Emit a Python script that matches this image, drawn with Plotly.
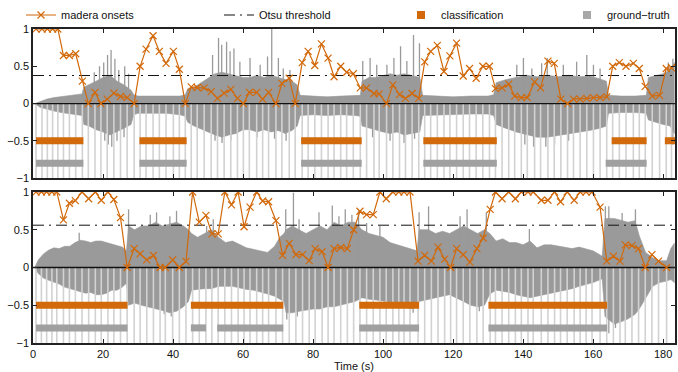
import plotly.graph_objects as go

X_MAX = 183.4
ORANGE = "#d2690a"
WAVE = "#9a9a9a"
ONSET_LINE = "#d2d2d2"
GT = "#a0a0a0"
FONT = "Liberation Sans, Arial, sans-serif"

y_tick_vals = [-1, -0.5, 0, 0.5, 1]
y_tick_text = ["\u22121", "\u22120.5", "0", "0.5", "1"]
x_tick_vals = [0, 20, 40, 60, 80, 100, 120, 140, 160, 180]

# ---------------- top panel ----------------
top_onset_t = [0.86, 2.57, 4.1, 5.6, 7.1, 8.7, 10.4, 12.2, 14.1, 15.8, 17.7, 19.4, 21.2, 23.1, 25.0, 26.9, 28.9,
               30.6, 32.3, 34.3, 36.1, 38.0, 40.1, 41.8, 43.5, 45.2, 46.9, 48.9, 50.9, 52.7, 54.6, 56.5, 58.4,
               60.1, 61.8, 63.9, 65.6, 67.3, 69.4, 71.1, 73.2, 74.9, 76.9, 78.6, 80.5, 82.4, 84.3, 86.0, 87.9,
               89.6, 91.5, 93.5, 95.3, 97.4, 98.9, 101.0, 102.8, 104.7, 106.4, 108.3, 110.2, 111.9, 113.6,
               115.5, 117.4, 119.1, 121.0, 122.9, 124.7, 126.6, 128.5, 130.4, 132.1, 134.0, 135.9, 137.6,
               139.5, 141.2, 143.3, 145.0, 147.1, 148.9, 150.8, 152.7, 154.4, 156.3, 158.2, 160.1, 162.0,
               163.9, 165.6, 167.5, 169.4, 171.5, 173.2, 174.9, 176.9, 179.0, 180.9, 182.4]
top_onset_v = [1.0, 1.0, 1.0, 1.0, 1.0, 0.645, 0.645, 0.668, 0.30, 0.0, 0.15, 0.0, 0.06, 0.14, 0.095, 0.08, 0.0,
               0.50, 0.73, 0.91, 0.70, 0.54, 0.70, 0.46, 0.0, 0.225, 0.215, 0.21, 0.16, 0.07, 0.14, 0.19, 0.07,
               0.0, 0.15, 0.15, 0.06, 0.15, 0.0, 0.27, 0.34, 0.0, 0.55, 0.70, 0.51, 0.80, 0.61, 0.36, 0.50,
               0.42, 0.40, 0.21, 0.21, 0.135, 0.13, 0.0, 0.25, 0.12, 0.07, 0.135, 0.07, 0.56, 0.70,
               0.78, 0.43, 0.64, 0.81, 0.37, 0.47, 0.34, 0.50, 0.50, 0.20, 0.21, 0.26, 0.10,
               0.08, 0.08, 0.29, 0.21, 0.57, 0.54, 0.06, 0.0, 0.06, 0.06, 0.07, 0.08, 0.08,
               0.09, 0.50, 0.55, 0.50, 0.54, 0.47, 0.23, 0.10, 0.11, 0.47, 0.48]
top_threshold = 0.376
top_cls_start = [0.86, 30.4, 76.6, 111.5, 165.3, 180.5]
top_cls_end = [14.4, 43.9, 93.9, 132.5, 175.3, 183.4]
top_gt_start = [0.86, 30.4, 76.6, 111.5, 163.6]
top_gt_end = [14.4, 43.9, 93.9, 132.5, 175.3]

# waveform: dense body (envelope) + isolated peaks
top_wave_t = [0.5, 2, 4, 6, 8, 10, 12, 14, 14.5, 16, 18, 20, 22, 24, 26, 28, 28.8, 30, 34, 38, 42, 43.5, 44.2,
              46, 48, 50, 52, 54, 56, 58, 60, 62, 64, 66, 68, 70, 72, 74, 75.5, 76.3, 80, 84, 88, 92, 93.5,
              94, 96, 98, 100, 102, 104, 106, 108, 110.5, 111.3, 115, 120, 125, 130, 131.6, 132.3, 135, 138,
              141, 144, 147, 150, 153, 156, 159, 162, 163.8, 164.4, 168, 172, 175.2, 175.8, 178, 180, 182, 183.2]
top_wave_hi = [0.0, 0.03, 0.06, 0.08, 0.09, 0.11, 0.12, 0.13, 0.22, 0.25, 0.3, 0.35, 0.38, 0.3, 0.25, 0.18, 0.12,
               0.1, 0.1, 0.11, 0.1, 0.12, 0.2, 0.22, 0.28, 0.35, 0.4, 0.42, 0.4, 0.38, 0.35, 0.35, 0.38, 0.35,
               0.38, 0.35, 0.33, 0.3, 0.25, 0.11, 0.1, 0.09, 0.1, 0.1, 0.11, 0.3, 0.35, 0.35, 0.38, 0.4, 0.38,
               0.4, 0.38, 0.35, 0.11, 0.1, 0.09, 0.1, 0.1, 0.12, 0.28, 0.32, 0.35, 0.38, 0.36, 0.38, 0.36, 0.38,
               0.36, 0.37, 0.33, 0.3, 0.11, 0.1, 0.1, 0.11, 0.35, 0.38, 0.4, 0.45, 0.55]
top_wave_lo = [0.0, -0.05, -0.08, -0.10, -0.12, -0.13, -0.15, -0.16, -0.28, -0.3, -0.35, -0.38, -0.42, -0.38,
               -0.33, -0.28, -0.15, -0.13, -0.13, -0.13, -0.15, -0.17, -0.25, -0.3, -0.35, -0.38, -0.42, -0.45,
               -0.42, -0.4, -0.35, -0.35, -0.38, -0.35, -0.38, -0.36, -0.4, -0.36, -0.3, -0.16, -0.15, -0.16,
               -0.15, -0.16, -0.17, -0.3, -0.33, -0.35, -0.38, -0.4, -0.38, -0.42, -0.4, -0.38, -0.16, -0.15,
               -0.15, -0.14, -0.14, -0.16, -0.28, -0.33, -0.38, -0.42, -0.45, -0.45, -0.42, -0.4, -0.38, -0.36,
               -0.33, -0.3, -0.13, -0.12, -0.12, -0.13, -0.22, -0.25, -0.28, -0.3, -0.4]
top_peak_hi_t = [17.5, 19, 20.2, 21.3, 22.3, 23.4, 24.5, 26.2, 27.3, 51.3, 53.0, 53.9, 55.3, 56.3, 57.4, 59.1,
                 62.0, 64.9, 67.0, 68.2, 70.1, 71.5, 73.4, 94.2, 96.3, 98.2, 101.1, 103.1, 105.0, 106.8, 108.7,
                 110.4, 138.2, 140.1, 142.5, 145.3, 146.9, 151.5, 155.3, 158.2, 160.1, 162.0, 181.5, 182.8]
top_peak_hi_v = [0.42, 0.5, 0.55, 0.65, 0.72, 0.6, 0.45, 0.5, 0.4, 0.65, 0.88, 0.79, 0.83, 0.70, 0.74, 0.56,
                 0.61, 0.52, 0.63, 1.0, 0.61, 0.47, 0.45, 0.57, 0.61, 0.52, 0.52, 0.61, 0.77, 0.57, 0.92,
                 0.81, 0.52, 0.61, 0.47, 0.54, 0.61, 0.52, 0.56, 0.65, 0.52, 0.47, 0.55, 0.6]
top_peak_lo_t = [20.5, 21.5, 22.5, 24, 26, 52, 54, 56.5, 64, 69, 72.3, 97, 102, 106, 109, 140.5, 143, 146.5,
                 149, 153, 182.8]
top_peak_lo_v = [-0.5, -0.55, -0.58, -0.5, -0.45, -0.5, -0.53, -0.5, -0.45, -0.47, -0.5, -0.45, -0.5, -0.53,
                 -0.47, -0.55, -0.58, -0.58, -0.55, -0.5, -0.55]

# ---------------- bottom panel ----------------
bot_onset_t = [0.86, 2.4, 3.9, 5.4, 6.8, 8.7, 10.4, 12.1, 14.0, 15.9, 17.8, 19.5, 21.4, 23.1, 25.0, 26.9, 28.9,
               30.6, 32.5, 34.4, 36.3, 37.8, 39.9, 41.8, 43.7, 45.6, 47.5, 49.4, 51.1, 52.9, 54.8, 56.7, 58.6,
               60.3, 62.0, 63.9, 65.6, 67.3, 69.4, 71.3, 73.2, 75.1, 77.0, 78.9, 80.6, 82.6, 84.3, 86.0, 87.9,
               89.8, 91.6, 93.4, 95.3, 97.2, 99.1, 100.9, 102.8, 104.5, 106.0, 107.7, 110.0, 111.9, 113.8,
               115.7, 117.6, 119.3, 121.0, 122.9, 124.8, 126.8, 128.6, 130.6, 132.1, 134.0, 135.9, 137.8,
               139.5, 141.4, 142.9, 145.2, 147.1, 149.0, 150.7, 152.6, 154.6, 156.3, 158.0, 159.7, 162.0,
               163.9, 165.8, 167.7, 169.2, 171.1, 173.0, 174.9, 176.8, 178.7, 181.0]
bot_onset_v = [1, 1, 1, 1, 1, 0.63, 0.85, 0.885, 1, 0.91, 1, 0.89, 1, 0.90, 0.66, 0.0, 0.25,
               0.18, 0.10, 0.16, 0.0, 0.0, 0.10, 0.0, 0.08, 1, 0.60, 0.69, 0.445, 0.445, 1, 0.83, 1,
               0.54, 0.80, 1, 0.88, 0.87, 0.62, 0.16, 0.32, 0.17, 0.17, 0.09, 0.25, 0.21, 0.0, 0.25, 0.265,
               0.25, 0.50, 0.745, 0.70, 0.70, 1, 0.91, 1, 1, 1, 1, 0.085, 0.16, 0.085,
               0.27, 0.11, 0.0, 0.25, 0.17, 0.07, 0.25, 0.39, 0.77, 1, 0.91, 1, 0.91,
               1, 1, 1, 0.89, 0.89, 1, 0.87, 1, 0.89, 1, 1, 1, 0.80,
               0.085, 0.15, 0.085, 0.30, 0.29, 0.25, 0.0, 0.17, 0.085, 0.0]
bot_threshold = 0.56
bot_cls_start = [0.86, 45.1, 93.2, 130.1]
bot_cls_end = [27.0, 71.5, 110.3, 164.0]
bot_gt_start = [0.86, 45.1, 52.6, 93.2, 130.1]
bot_gt_end = [27.0, 49.4, 71.5, 110.3, 164.0]

bot_wave_t = [0.5, 1.5, 3, 4.5, 6, 7.5, 9, 10.5, 12, 13.5, 15, 16.5, 18, 19.5, 21, 22.5, 24, 25.5, 26.7, 27.3,
              29, 31, 33, 35, 37, 39, 41, 43, 44.4, 45.3, 47, 49, 51, 53, 55, 57, 59, 61, 63, 65, 67, 69, 70.5,
              71.7, 72.3, 74, 76, 78, 80, 82, 84, 86, 88, 90, 92, 94, 96, 98, 100, 102, 104, 106, 108, 109.7,
              110.3, 113, 115, 117, 119, 121, 123, 125, 127, 129, 130.5, 132.3, 134.2, 136.1, 138, 140, 142,
              144, 146, 148, 150, 152, 154, 156, 158, 160, 162.6, 163.4, 166, 168, 170, 172, 173.2, 175, 177,
              179, 181, 182.2, 183.2]
bot_wave_hi = [0.0, 0.1, 0.18, 0.23, 0.26, 0.25, 0.28, 0.28, 0.33, 0.36, 0.35, 0.33, 0.35, 0.35, 0.33, 0.31, 0.3,
               0.27, 0.22, 0.55, 0.5, 0.55, 0.55, 0.6, 0.55, 0.58, 0.6, 0.55, 0.5, 0.45, 0.4, 0.45, 0.5, 0.4,
               0.33, 0.35, 0.3, 0.26, 0.24, 0.22, 0.2, 0.28, 0.4, 0.45, 0.5, 0.55, 0.5, 0.45, 0.5, 0.55, 0.5,
               0.6, 0.55, 0.6, 0.6, 0.5, 0.45, 0.42, 0.4, 0.33, 0.3, 0.28, 0.25, 0.22, 0.5, 0.5, 0.45, 0.48,
               0.45, 0.5, 0.55, 0.5, 0.45, 0.5, 0.45, 0.35, 0.38, 0.33, 0.33, 0.3, 0.35, 0.26, 0.3, 0.3, 0.28,
               0.26, 0.25, 0.27, 0.25, 0.22, 0.15, 0.65, 0.65, 0.62, 0.6, 0.62, 0.42, 0.2, 0.13, 0.09, 0.09,
               0.25, 0.32]
bot_wave_lo = [0.0, -0.08, -0.14, -0.17, -0.2, -0.22, -0.26, -0.27, -0.3, -0.32, -0.34, -0.33, -0.36, -0.36,
               -0.34, -0.3, -0.3, -0.26, -0.21, -0.5, -0.47, -0.5, -0.52, -0.55, -0.57, -0.6, -0.58, -0.52,
               -0.45, -0.3, -0.29, -0.28, -0.28, -0.25, -0.25, -0.25, -0.27, -0.29, -0.3, -0.32, -0.35, -0.38,
               -0.42, -0.45, -0.6, -0.6, -0.58, -0.56, -0.55, -0.55, -0.52, -0.52, -0.5, -0.47, -0.45, -0.4,
               -0.42, -0.43, -0.44, -0.46, -0.48, -0.52, -0.55, -0.5, -0.45, -0.42, -0.4, -0.38, -0.36, -0.4,
               -0.45, -0.5, -0.52, -0.5, -0.35, -0.3, -0.32, -0.33, -0.36, -0.38, -0.4, -0.38, -0.36, -0.34,
               -0.32, -0.3, -0.28, -0.25, -0.22, -0.2, -0.15, -0.65, -0.75, -0.72, -0.68, -0.62, -0.55, -0.4,
               -0.25, -0.2, -0.18, -0.16, -0.2]
bot_peak_hi_t = [13.2, 27.3, 33.5, 35.3, 39.1, 41.0, 49.6, 51.5, 72.2, 74.4, 76.0, 81.7, 85.5, 87.4, 89.2, 91.1,
                 93.0, 95.3, 99.1, 110.3, 113.0, 122.0, 124.0, 129.5, 141.8, 163.5, 164.5, 168.3, 172.1]
bot_peak_hi_v = [0.46, 0.77, 0.7, 0.73, 0.68, 0.75, 0.55, 0.64, 0.77, 0.99, 0.64, 0.73, 0.82, 0.68, 0.77, 0.7,
                 0.75, 0.59, 0.55, 0.73, 0.81, 0.68, 0.77, 0.73, 0.51, 0.81, 0.81, 0.72, 0.77]
bot_peak_lo_t = [37.5, 39.5, 72.5, 75.5, 108.6, 127.5, 164.5, 166.4]
bot_peak_lo_v = [-0.62, -0.65, -0.69, -0.65, -0.6, -0.58, -0.87, -0.8]

CLS_LEVEL = -0.5
GT_LEVEL = -0.8


def segments(starts, ends, level):
    xs, ys = [], []
    for a, b in zip(starts, ends):
        xs += [a, b, None]
        ys += [level, level, None]
    return xs, ys


def stems(ts, bottoms, tops):
    xs, ys = [], []
    for t, b, h in zip(ts, bottoms, tops):
        xs += [t, t, None]
        ys += [b, h, None]
    return xs, ys


fig = go.Figure()


def add_panel(xa, ya, wt, whi, wlo, pht, phv, plt_, plv, ot, ov, thr, cs, ce, gs, ge, show_legend):
    # waveform body
    fig.add_trace(go.Scatter(x=wt + wt[::-1], y=whi + wlo[::-1], fill="toself", fillcolor=WAVE,
                             line=dict(width=0.6, color=WAVE), mode="lines", hoverinfo="skip",
                             showlegend=False, xaxis=xa, yaxis=ya))
    # waveform peaks
    px_, py_ = stems(pht + plt_, [0] * (len(pht) + len(plt_)), phv + plv)
    fig.add_trace(go.Scatter(x=px_, y=py_, mode="lines", line=dict(color=WAVE, width=1.3),
                             hoverinfo="skip", showlegend=False, xaxis=xa, yaxis=ya))
    # onset stems
    sx, sy = stems(ot, [-1] * len(ot), [0] * len(ot))
    fig.add_trace(go.Scatter(x=sx, y=sy, mode="lines", line=dict(color=ONSET_LINE, width=1.6),
                             hoverinfo="skip", showlegend=False, xaxis=xa, yaxis=ya))
    # zero line
    fig.add_trace(go.Scatter(x=[0, X_MAX], y=[0, 0], mode="lines", line=dict(color="#111", width=1.3),
                             hoverinfo="skip", showlegend=False, xaxis=xa, yaxis=ya))
    # threshold
    fig.add_trace(go.Scatter(x=[0, X_MAX], y=[thr, thr], mode="lines", name="Otsu threshold",
                             line=dict(color="#111", width=1, dash="11px,5px,2px,5px"),
                             showlegend=show_legend, legend="legend2", xaxis=xa, yaxis=ya))
    # classification / ground truth bars
    bx, by = segments(cs, ce, CLS_LEVEL)
    fig.add_trace(go.Scatter(x=bx, y=by, mode="lines", line=dict(color=ORANGE, width=7),
                             hoverinfo="skip", showlegend=False, xaxis=xa, yaxis=ya))
    gx, gy = segments(gs, ge, GT_LEVEL)
    fig.add_trace(go.Scatter(x=gx, y=gy, mode="lines", line=dict(color=GT, width=7),
                             hoverinfo="skip", showlegend=False, xaxis=xa, yaxis=ya))
    # onset values
    fig.add_trace(go.Scatter(x=ot, y=ov, mode="lines+markers", name="madera onsets",
                             line=dict(color=ORANGE, width=1.2),
                             marker=dict(symbol="x-thin-open", size=7, color=ORANGE,
                                         line=dict(color=ORANGE, width=1.2)),
                             showlegend=show_legend, legend="legend", xaxis=xa, yaxis=ya))


add_panel("x", "y", top_wave_t, top_wave_hi, top_wave_lo, top_peak_hi_t, top_peak_hi_v, top_peak_lo_t,
          top_peak_lo_v, top_onset_t, top_onset_v, top_threshold,
          top_cls_start, top_cls_end, top_gt_start, top_gt_end, True)
add_panel("x2", "y2", bot_wave_t, bot_wave_hi, bot_wave_lo, bot_peak_hi_t, bot_peak_hi_v, bot_peak_lo_t,
          bot_peak_lo_v, bot_onset_t, bot_onset_v, bot_threshold,
          bot_cls_start, bot_cls_end, bot_gt_start, bot_gt_end, False)

# legend-only square entries
fig.add_trace(go.Scatter(x=[None], y=[None], mode="markers", name="classification",
                         marker=dict(symbol="square", size=8, color=ORANGE), legend="legend3"))
fig.add_trace(go.Scatter(x=[None], y=[None], mode="markers", name="ground\u2212truth",
                         marker=dict(symbol="square", size=8, color="#a8a8a8"), legend="legend4"))

axis_common = dict(showline=True, mirror="ticks", linecolor="#222", linewidth=1.5, ticks="inside",
                   ticklen=4, tickcolor="#222", showgrid=False, zeroline=False, automargin=False,
                   tickfont=dict(size=11, color="#111", family=FONT))
xcommon = dict(axis_common, range=[0, X_MAX], tickvals=x_tick_vals)
ycommon = dict(axis_common, range=[-1, 1], tickvals=y_tick_vals, ticktext=y_tick_text)

leg = dict(orientation="h", yanchor="middle", y=1 - 15 / 372, xanchor="left", xref="container",
           yref="container", bgcolor="rgba(0,0,0,0)",
           font=dict(size=11, color="#111", family=FONT), itemclick=False)

fig.update_layout(
    width=678, height=372,
    margin=dict(l=33, r=3, t=29, b=29, autoexpand=False),
    plot_bgcolor="white", paper_bgcolor="white",
    font=dict(family=FONT, size=11, color="#111"),
    xaxis=dict(xcommon, domain=[0, 1], anchor="y", showticklabels=False),
    yaxis=dict(ycommon, domain=[0.525, 1], anchor="x"),
    xaxis2=dict(xcommon, domain=[0, 1], anchor="y2",
                title=dict(text="Time (s)", font=dict(size=11, family=FONT), standoff=0)),
    yaxis2=dict(ycommon, domain=[0, 0.481], anchor="x2"),
    legend=dict(leg, x=21 / 678),
    legend2=dict(leg, x=219 / 678),
    legend3=dict(leg, x=401 / 678),
    legend4=dict(leg, x=567 / 678),
    hovermode=False,
)

fig.write_html(
    "out.html",
    config={"displayModeBar": False},
    post_script="document.body.style.margin='0';document.body.style.overflow='hidden';",
)
